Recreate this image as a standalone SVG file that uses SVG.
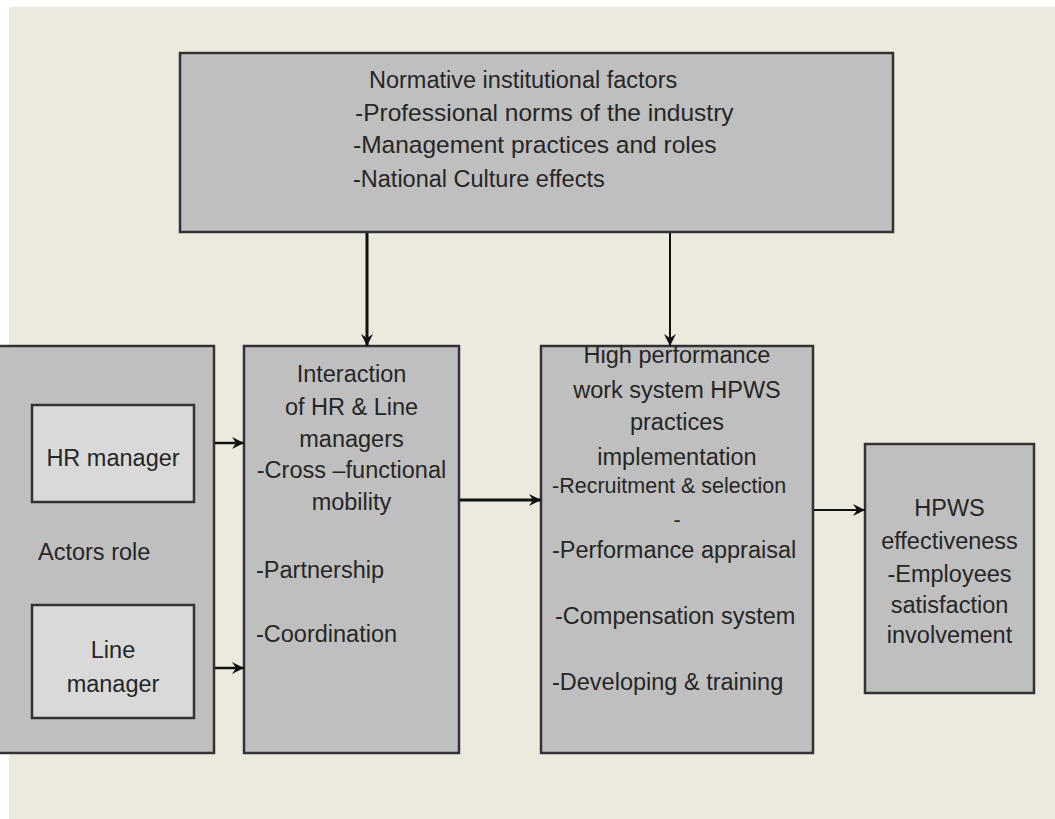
<svg xmlns="http://www.w3.org/2000/svg" width="1055" height="819" viewBox="0 0 1055 819">
  <defs>
    <style>
      .box { fill: #BFBFBF; stroke: #333333; stroke-width: 2.5; }
      .inner { fill: #D9D9D9; stroke: #333333; stroke-width: 2.5; }
      .txt { font-family: "Liberation Sans", Arial, sans-serif; font-size: 23.5px; fill: #262626; }
      .mid { text-anchor: middle; }
      .small { font-size: 21.5px; }
      .wide { font-size: 24.5px; }
      .conn { stroke: #111111; fill: none; }
    </style>
    <marker id="arrow" markerUnits="userSpaceOnUse" markerWidth="14" markerHeight="14" refX="12" refY="7" orient="auto">
      <path d="M0,1 L12,7 L0,13 L4,7 z" fill="#111111"/>
    </marker>
  </defs>

  <!-- page -->
  <rect x="0" y="0" width="1055" height="819" fill="#FFFFFF"/>
  <rect x="9" y="7" width="1046" height="812" fill="#ECEADF"/>

  <!-- normative factors -->
  <g id="normative">
    <rect class="box" x="180" y="53" width="713" height="179"/>
    <text class="txt" x="369" y="88">Normative institutional factors</text>
    <text class="txt wide" x="355" y="121">-Professional norms of the industry</text>
    <text class="txt wide" x="353" y="153">-Management practices and roles</text>
    <text class="txt" x="353" y="187">-National Culture effects</text>
  </g>

  <!-- actors -->
  <g id="actors">
    <rect class="box" x="-4" y="346" width="218" height="407"/>
    <text class="txt" x="38" y="560">Actors role</text>
  </g>
  <g id="hr-manager">
    <rect class="inner" x="32" y="405" width="162" height="97"/>
    <text class="txt mid" x="113" y="466">HR manager</text>
  </g>
  <g id="line-manager">
    <rect class="inner" x="32" y="605" width="162" height="113"/>
    <text class="txt mid" x="113" y="658">Line</text>
    <text class="txt mid" x="113" y="692">manager</text>
  </g>

  <!-- interaction -->
  <g id="interaction">
    <rect class="box" x="244" y="346" width="215" height="407"/>
    <text class="txt mid" x="351.5" y="382">Interaction</text>
    <text class="txt mid" x="351.5" y="415">of HR &amp; Line</text>
    <text class="txt mid" x="351.5" y="447">managers</text>
    <text class="txt mid" x="351.5" y="478">-Cross –functional</text>
    <text class="txt mid" x="351.5" y="510">mobility</text>
    <text class="txt" x="256" y="578">-Partnership</text>
    <text class="txt" x="256" y="642">-Coordination</text>
  </g>

  <!-- hpws practices -->
  <g id="hpws">
    <rect class="box" x="541" y="346" width="272" height="407"/>
    <text class="txt mid" x="677" y="363">High performance</text>
    <text class="txt mid" x="677" y="398">work system HPWS</text>
    <text class="txt mid" x="677" y="430">practices</text>
    <text class="txt mid" x="677" y="465">implementation</text>
    <text class="txt small" x="552" y="493">-Recruitment &amp; selection</text>
    <text class="txt small mid" x="677" y="527">-</text>
    <text class="txt" x="552" y="558">-Performance appraisal</text>
    <text class="txt" x="555" y="624">-Compensation system</text>
    <text class="txt" x="552" y="690">-Developing &amp; training</text>
  </g>

  <!-- effectiveness -->
  <g id="effectiveness">
    <rect class="box" x="865" y="444" width="169" height="249"/>
    <text class="txt mid" x="949.5" y="516">HPWS</text>
    <text class="txt mid" x="949.5" y="549">effectiveness</text>
    <text class="txt mid" x="949.5" y="582">-Employees</text>
    <text class="txt mid" x="949.5" y="613">satisfaction</text>
    <text class="txt mid" x="949.5" y="643">involvement</text>
  </g>

  <!-- connectors -->
  <g id="connectors" class="conn">
    <path d="M367,233 L367,346" stroke-width="3" marker-end="url(#arrow)"/>
    <path d="M670,233 L670,346" stroke-width="2" marker-end="url(#arrow)"/>
    <path d="M215,443 L244,443" stroke-width="2.5" marker-end="url(#arrow)"/>
    <path d="M215,668 L244,668" stroke-width="2.5" marker-end="url(#arrow)"/>
    <path d="M460,500 L541,500" stroke-width="3" marker-end="url(#arrow)"/>
    <path d="M814,510 L865,510" stroke-width="2" marker-end="url(#arrow)"/>
  </g>
</svg>
